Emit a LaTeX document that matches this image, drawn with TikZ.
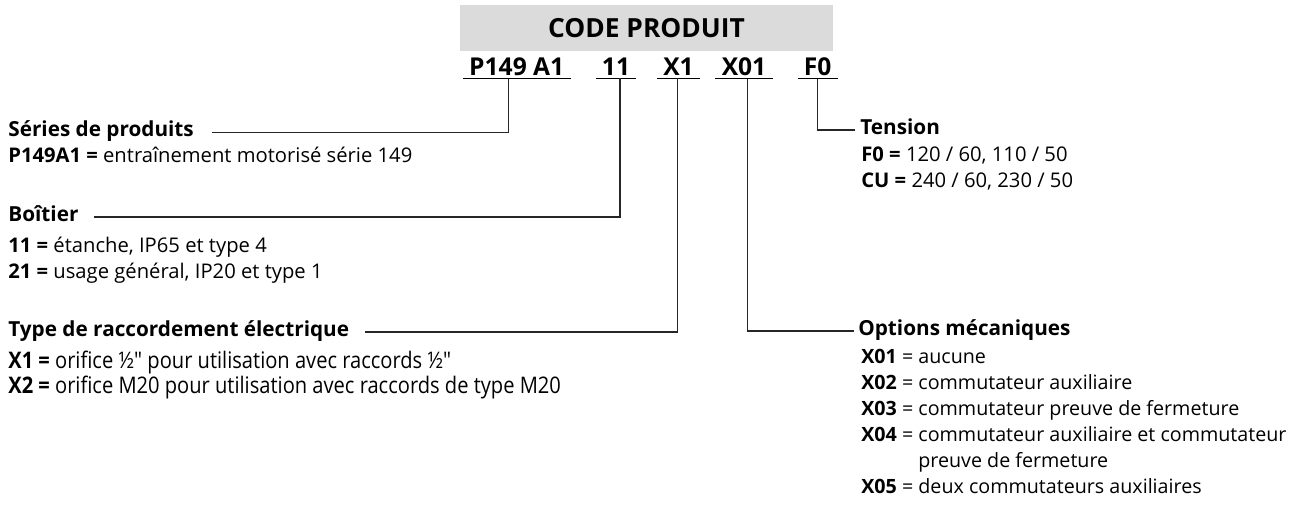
\documentclass[tikz,border=0pt]{standalone}
\usepackage{fontspec}
\setmainfont{Open Sans}
\newfontfamily\narrowfont{Open Sans}[FakeStretch=0.88]
\usetikzlibrary{positioning}

\begin{document}
\begin{tikzpicture}[
  x=0.02cm, y=-0.02cm,
  font=\fontsize{11.5}{14.74}\selectfont,
  titlebox/.style={fill=black!14, minimum width=7.46cm, minimum height=0.92cm,
                   font=\fontsize{15}{18}\selectfont\bfseries},
  code/.style={anchor=base, inner xsep=0.12cm, inner ysep=0.06cm,
               font=\fontsize{14}{16}\selectfont\bfseries},
  head/.style={anchor=west, inner sep=0, text height=0.75em, text depth=0.25em,
               font=\fontsize{11.8}{14.74}\selectfont\bfseries},
  list/.style={anchor=north west, inner sep=0, align=left},
  lead/.style={draw=black!85, line width=0.6pt},
]
  \useasboundingbox (0,0) rectangle (1309,507);

  % title and code row
  \node[titlebox] (title) at (646.5,28) {CODE PRODUIT};
  \node[code] (p149) at (516.7,75) {P149 A1};
  \node[code] (boit) at (616,75) {11};
  \node[code] (racc) at (678.5,75) {X1};
  \node[code] (opt) at (744,75) {X01};
  \node[code] (tens) at (817.7,75) {F0};
  \foreach \c in {p149,boit,racc,opt,tens}
    \draw[line width=0.7pt] (\c.south west) -- (\c.south east);

  % left column
  \node[head] (serie) at (8,132.5) {Séries de produits};
  \node[list] (seriel) at (8,144.8)
    {\rule{0pt}{10pt}\textbf{P149A1 =} entraînement motorisé série 149};

  \node[head] (boitier) at (8,217) {Boîtier};
  \node[list] (boitierl) at (8,235)
    {\rule{0pt}{10pt}\textbf{11 =} étanche, IP65 et type 4\\
     \textbf{21 =} usage général, IP20 et type 1};

  \node[head] (raccord) at (8,332) {Type de raccordement électrique};
  \node[list, font=\narrowfont\fontsize{13}{14.2}\selectfont] (raccordl) at (8,351)
    {\rule{0pt}{10pt}\textbf{X1 =} orifice ½" pour utilisation avec raccords ½"\\
     \textbf{X2 =} orifice M20 pour utilisation avec raccords de type M20};

  % right column
  \node[head] (tension) at (860,130) {Tension};
  \node[list] (tensionl) at (861,143.5)
    {\rule{0pt}{10pt}\textbf{F0 =} 120 / 60, 110 / 50\\
     \textbf{CU =} 240 / 60, 230 / 50};

  \node[head] (options) at (858,331) {Options mécaniques};
  \node[list, font=\fontsize{11.2}{14.74}\selectfont] (optionsl) at (861,345.8)
    {\rule{0pt}{10pt}\textbf{X01} = aucune\\
     \textbf{X02} = commutateur auxiliaire\\
     \textbf{X03} = commutateur preuve de fermeture\\
     \textbf{X04} = commutateur auxiliaire et commutateur\\
     \hphantom{\textbf{X04} = }preuve de fermeture\\
     \textbf{X05} = deux commutateurs auxiliaires};

  % leaders
  \draw[lead] ([xshift=-0.168cm]p149.south) |- ([xshift=0.36cm]serie.east);
  \draw[lead] ([xshift=0.08cm]boit.south) |- ([xshift=0.3cm]boitier.east);
  \draw[lead] ([xshift=-0.024cm]racc.south) |- ([xshift=0.32cm]raccord.east);
  \draw[lead] ([xshift=0.066cm]opt.south) |- ([xshift=-0.08cm]options.west);
  \draw[lead] (tens.south) |- ([xshift=-0.1cm]tension.west);
\end{tikzpicture}
\end{document}
